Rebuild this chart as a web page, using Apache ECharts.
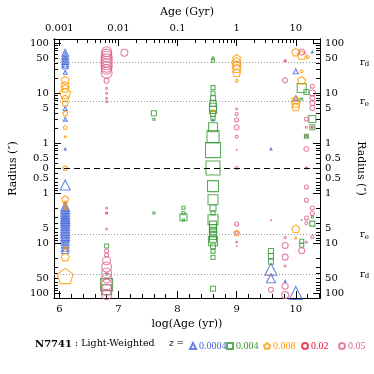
<!DOCTYPE html>
<html><head><meta charset="utf-8">
<script src="https://cdn.jsdelivr.net/npm/echarts@6/dist/echarts.min.js"></script>
<style>html,body{margin:0;padding:0;background:#fff}#c{width:374px;height:374px}</style>
</head><body><div id="c"></div>
<script>
// ---------- data: [log(Age/yr), radius (arcsec; negative = lower half), marker weight] ----------
const pts_z0004 = [
  [6.1,64,7],[6.1,56,7],[6.1,49,7],[6.1,44,7],[6.1,39,7],[6.1,35,6],[6.1,26,4],[6.1,4.9,4],[6.1,3.0,4],[6.1,0.76,2],
  [6.1,-0.69,10],[6.1,-1.88,9],[6.1,-2.12,9],[6.1,-2.37,9],[6.1,-2.67,9],[6.1,-2.98,9],[6.1,-3.31,9],[6.1,-3.63,9],
  [6.1,-4.04,9],[6.1,-4.51,9],[6.1,-5.08,9],[6.1,-5.68,9],[6.1,-6.4,9],[6.1,-7.24,9],[6.1,-8.05,8],[6.1,-9.1,8],
  [6.1,-10.5,8],[6.1,-12.2,8],[6.1,-13.8,7],
  [8.6,2.9,2],
  [9.58,0.76,2],[9.58,-33.6,12],[9.58,-50.8,9],[9.82,-58,2],
  [10.0,27.2,5],[10.0,7.9,5],[10.0,-100,13],
  [10.28,66,2]
];
const pts_z004 = [
  [6.8,-11.5,4],[6.8,-41.7,2],[6.8,-68,12],[6.8,-86,10],
  [7.6,3.93,5],[7.6,2.98,2],[7.6,-2.51,2],
  [8.1,-1.97,3],[8.1,-2.54,3],[8.1,-3.06,7],[8.1,-3.47,2],
  [8.6,50,2],[8.6,44.3,3],[8.6,12.8,4],[8.6,9.86,4],[8.6,7.83,5],[8.6,6.22,6],[8.6,5.32,7],[8.6,4.57,7],[8.6,3.8,5],
  [8.6,3.12,4],[8.6,2.06,9],[8.6,1.34,12],[8.6,0.72,15],[8.6,0,14],[8.6,-0.73,11],[8.6,-1.36,10],[8.6,-2.0,6],
  [8.6,-2.51,4],[8.6,-3.42,10],[8.6,-4.3,7],[8.6,-5.0,7],[8.6,-5.68,7],[8.6,-6.4,7],[8.6,-7.24,7],[8.6,-8.2,7],
  [8.6,-9.25,9],[8.6,-11.6,5],[8.6,-14.7,4],[8.6,-19.5,4],[8.6,-82,5],
  [9.58,-14.5,5],[9.58,-18.2,5],[9.58,-23.7,5],
  [10.1,12.6,9],[10.1,7.6,2],[10.1,-9.25,4],[10.1,-11.1,4],
  [10.18,10.5,5],[10.18,1.36,4],
  [10.28,3.02,7],[10.28,2.06,5],[10.28,-3.02,2],[10.28,-4.1,5]
];
const pts_z008 = [
  [6.1,18.2,8],[6.1,14.5,8],[6.1,12.4,8],[6.1,9.86,11],[6.1,7.83,7],[6.1,6.22,6],[6.1,3.93,5],[6.1,2.06,4],[6.1,1.34,2],
  [6.1,0,5],[6.1,-1.32,7],[6.1,-1.58,4],[6.1,-2.0,3],[6.1,-12.6,3],[6.1,-19.1,8],[6.1,-45.7,16],
  [8.6,4.37,2],
  [9.0,49.4,8],[9.0,42.3,9],[9.0,36.3,9],[9.0,31.2,9],[9.0,25.5,8],[9.0,17.6,3],[9.0,-6.3,6],
  [10.0,66,8],[10.0,7.3,8],[10.0,6.3,9],[10.0,5.25,8],[10.0,-5.18,8],[10.0,-7.9,2],
  [10.1,57.5,9],[10.1,27.2,3],[10.1,17.9,8],
  [10.2,52.5,3]
];
const pts_z02 = [
  [6.8,-2.51,2],[9.82,44.3,2],[10.18,0,2],[10.18,1.36,2],[10.28,2.06,2]
];
const pts_z05 = [
  [6.8,67,10],[6.8,60,10],[6.8,53,11],[6.8,47,11],[6.8,42.3,11],[6.8,37.5,11],[6.8,33.6,11],[6.8,29.8,10],[6.8,25.5,11],
  [6.8,17.6,5],[6.8,12.4,2],[6.8,9.86,2],[6.8,7.83,2],[6.8,6.7,2],
  [6.8,-2.0,2],[6.8,-5.25,2],[6.8,-14.5,4],[6.8,-17.4,4],[6.8,-22.6,8],[6.8,-30.2,10],[6.8,-39.8,10],[6.8,-50,10],
  [6.8,-68,11],[6.8,-86,11],[6.8,-108,10],
  [7.1,64,7],
  [9.0,4.85,2],[9.0,3.8,3],[9.0,2.92,4],[9.0,2.06,5],[9.0,1.34,3],[9.0,0.73,1],[9.0,0,3],[9.0,-4.17,4],[9.0,-6.3,3],
  [9.0,-9.55,2],[9.0,-11.6,1],
  [9.58,-3.5,1],[9.58,-43.7,2],[9.58,-86,5],
  [9.82,17.9,5],[9.82,-7.76,2],[9.82,-11.2,6],[9.82,-19.2,6],[9.82,-28.8,2],[9.82,-73.5,6],[9.82,-110,7],
  [10.1,66,6],[10.1,-3.47,1],[10.1,-14.3,6],
  [10.18,3.02,4],[10.18,2.06,2],[10.18,0.76,5],[10.18,-0.76,4],[10.18,-1.40,4],[10.18,-3.16,4],[10.18,-4.0,3],[10.18,-9.55,2],
  [10.28,13.6,4],[10.28,10,6],[10.28,7.9,5],[10.28,6.3,5],[10.28,5.0,5],[10.28,-2.0,4],[10.28,-2.57,4],[10.28,-7.6,3]
];
const zNames = ['0.0004','0.004','0.008','0.02','0.05'];
const xLabelVals = [6,7,8,9,10];
const ageGyrLabels = ['0.001','0.01','0.1','1','10'];
const rLabelVals = [0,0.5,1,5,10,50,100];
const rMajorTicks = [0,1,10,100];
const rMinorTicks = [0.4,0.5,0.6,0.7,0.8,0.9,2,3,4,5,6,7,8,9,20,30,40,50,60,70,80,90];
const rEff = 6.8, rDisk = 42;

// ---------- helpers ----------
const FONT = 'DejaVu Serif';
const LFONT = 'Liberation Serif';
const COLORS = ['#4466dd','#339933','#ff9900','#ee1133','#e0628f'];
const SYMBOLS = ['triangle','rect','path://M0,-1L0.951,-0.309L0.588,0.809L-0.588,0.809L-0.951,-0.309Z','circle','circle'];
function ry(r){ if (r===0) return 0; const u = Math.log10(Math.abs(r)) + 0.5; return r>0 ? u : -u; }
function both(list){ const o=[]; list.forEach(r=>{ if(r===0) o.push(0); else { o.push(ry(r)); o.push(-ry(r)); } }); return o; }
function rFmt(v){ if (Math.abs(v)<1e-6) return '0'; const r = Math.pow(10, Math.abs(v)-0.5); return r<1 ? (Math.round(r*10)/10).toString() : Math.round(r).toString(); }
const xMinor = []; for (let v=6; v<=10.41; v+=0.2) xMinor.push(Math.round(v*10)/10);
const topMinor = []; for (let d=6; d<=10; d++) for (let k=2;k<=9;k++){ const v=d+Math.log10(k); if (v<=10.41) topMinor.push(v); }

const XMIN = 5.91, XMAX = 10.41, YMIN = -2.6, YMAX = 2.58;
const lblStyle = {fontFamily:FONT,fontSize:10,color:'#000'};

function xAx(pos, major, labels, fmt, name, gap){
  const base = {type:'value',min:XMIN,max:XMAX,position:pos,splitLine:{show:false},axisLine:{show:true,onZero:false,lineStyle:{color:'#000'}}};
  if (major) return Object.assign(base,{
    axisTick:{show:true,inside:true,length:7,customValues:labels,lineStyle:{color:'#000'}},
    axisLabel:Object.assign({show:true,customValues:labels,formatter:fmt,margin:6},lblStyle),
    name:name,nameLocation:'middle',nameGap:gap,nameTextStyle:{fontFamily:FONT,fontSize:11,color:'#000'}});
  return Object.assign(base,{axisTick:{show:true,inside:true,length:4,customValues:labels,lineStyle:{color:'#000'}},axisLabel:{show:false}});
}
function yAx(pos, major){
  const base = {type:'value',min:YMIN,max:YMAX,position:pos,splitLine:{show:false},axisLine:{show:true,onZero:false,lineStyle:{color:'#000'}}};
  if (major) return Object.assign(base,{
    axisTick:{show:true,inside:true,length:7,customValues:both(rMajorTicks),lineStyle:{color:'#000'}},
    axisLabel:Object.assign({show:true,customValues:both(rLabelVals),formatter:rFmt,margin:5},lblStyle),
    name:'Radius (″)',nameLocation:'middle',nameGap:24,nameRotate:pos==='left'?90:-90,
    nameTextStyle:{fontFamily:FONT,fontSize:11,color:'#000'}});
  return Object.assign(base,{axisTick:{show:true,inside:true,length:4,customValues:both(rMinorTicks),lineStyle:{color:'#000'}},axisLabel:{show:false}});
}

const allPts = [pts_z0004, pts_z004, pts_z008, pts_z02, pts_z05];
const series = allPts.map((pts,i)=>({
  type:'scatter', name:zNames[i], symbol:SYMBOLS[i], symbolKeepAspect:true,
  data: pts.map(p=>[p[0], ry(p[1]), p[2]]),
  symbolSize: v=>v[2],
  itemStyle:{color:'rgba(0,0,0,0)', borderColor:COLORS[i], borderWidth:1.1},
  xAxisIndex:0, yAxisIndex:0, silent:true, z:2
}));
const refLabel = (sub)=>({show:true,position:'end',distance:[40,-2],formatter:'{r|r}{s|'+sub+'}',
  rich:{r:{fontFamily:FONT,fontSize:10,color:'#000'},s:{fontFamily:FONT,fontSize:7,color:'#000',padding:[5,0,0,0]}}});
series.push({
  type:'line', name:'refs', data:[], xAxisIndex:0, yAxisIndex:0, silent:true,
  markLine:{silent:true, symbol:['none','none'], animation:false, data:[
    {yAxis:0, lineStyle:{type:[6,4],color:'#000',width:1}, label:{show:false}},
    {yAxis:ry(rEff), lineStyle:{type:[1,2],color:'#999',width:1.2}, label:refLabel('e')},
    {yAxis:-ry(rEff), lineStyle:{type:[1,2],color:'#999',width:1.2}, label:refLabel('e')},
    {yAxis:ry(rDisk), lineStyle:{type:[1,2],color:'#999',width:1.2}, label:refLabel('d')},
    {yAxis:-ry(rDisk), lineStyle:{type:[1,2],color:'#999',width:1.2}, label:refLabel('d')}
  ]}
});

const legPos = [184,221,258,296,333];
const legends = zNames.map((n,i)=>({
  show:true, left:legPos[i], top:336, itemWidth:6, itemHeight:6, itemGap:4, selectedMode:false,
  data:[{name:n, textStyle:{color:COLORS[i]}}],
  textStyle:{fontFamily:LFONT,fontSize:10,padding:[0,0,0,-2]}
}));

const chart = echarts.init(document.getElementById('c'), null, {renderer:'canvas'});
chart.setOption({
  animation:false,
  backgroundColor:'#fff',
  grid:{left:38,right:38,top:39,bottom:76,containLabel:false},
  title:[
    {text:'{b|N7741} : Light-Weighted', left:30, top:334, textStyle:{fontFamily:FONT,fontSize:9.5,fontWeight:'normal',color:'#000',
      rich:{b:{fontFamily:FONT,fontSize:10,fontWeight:'bold',color:'#000'}}}},
    {text:'z =', left:164, top:334, textStyle:{fontFamily:FONT,fontSize:9,fontWeight:'normal',fontStyle:'italic',color:'#000'}}
  ],
  legend:legends,
  xAxis:[
    xAx('bottom',true,xLabelVals,v=>String(Math.round(v)),'log(Age (yr))',18),
    xAx('bottom',false,xMinor),
    xAx('top',true,xLabelVals,v=>ageGyrLabels[xLabelVals.indexOf(Math.round(v))],'Age (Gyr)',19),
    xAx('top',false,topMinor)
  ],
  yAxis:[yAx('left',true),yAx('left',false),yAx('right',true),yAx('right',false)],
  series:series
});
</script></body></html>
